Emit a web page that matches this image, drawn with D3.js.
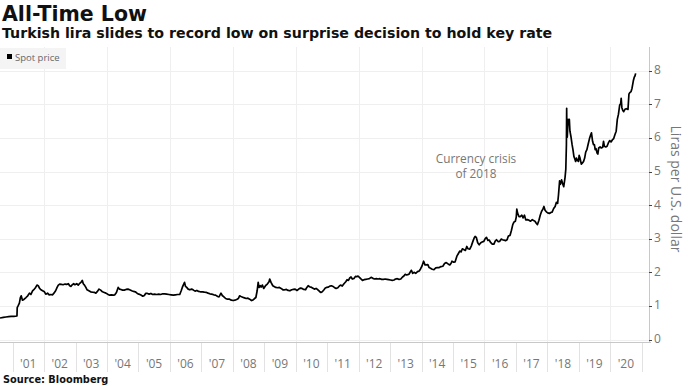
<!DOCTYPE html>
<html>
<head>
<meta charset="utf-8">
<script src="https://cdn.jsdelivr.net/npm/d3@7"></script>
<style>
body{margin:0;background:#fff}
</style>
</head>
<body>
<div id="chart"></div>
<script>
// USD/TRY spot
var days = ["2000-08-07","2000-09-15","2000-10-15","2000-11-15","2000-12-15","2001-01-15","2001-02-20","2001-02-23","2001-03-05","2001-03-20","2001-04-01","2001-04-10","2001-04-25","2001-05-15","2001-06-05","2001-06-25","2001-07-15","2001-08-01","2001-08-20","2001-09-10","2001-09-25","2001-10-10","2001-10-25","2001-11-10","2001-11-25","2001-12-15",
"2002-01-05","2002-01-20","2002-02-10","2002-03-01","2002-03-20","2002-04-10","2002-04-25","2002-05-15","2002-06-01","2002-06-15","2002-07-01","2002-07-20","2002-08-10","2002-09-01","2002-09-20","2002-10-10","2002-10-25","2002-11-10","2002-11-20","2002-12-10","2002-12-25",
"2003-01-15","2003-02-01","2003-02-15","2003-03-05","2003-03-20","2003-04-01","2003-04-15","2003-05-01","2003-05-15","2003-06-05","2003-06-25","2003-07-15","2003-08-10","2003-08-25","2003-09-15","2003-10-01","2003-10-20","2003-11-10","2003-12-01","2003-12-20",
"2004-01-15","2004-02-01","2004-02-20","2004-03-15","2004-04-01","2004-04-20","2004-05-10","2004-05-25","2004-06-10","2004-07-01","2004-07-20","2004-08-10","2004-09-01","2004-09-20","2004-10-15","2004-11-05","2004-11-25","2004-12-15",
"2005-01-05","2005-01-25","2005-02-20","2005-03-10","2005-03-25","2005-04-15","2005-05-05","2005-05-25","2005-06-15","2005-07-05","2005-08-01","2005-08-25","2005-09-15","2005-10-10","2005-11-01","2005-11-25","2005-12-20",
"2006-01-15","2006-02-10","2006-03-05","2006-04-01","2006-04-25","2006-05-12","2006-05-25","2006-06-05","2006-06-20","2006-07-01","2006-07-15","2006-08-01","2006-08-20","2006-09-10","2006-10-01","2006-10-20","2006-11-10","2006-12-01","2006-12-20",
"2007-01-15","2007-02-05","2007-03-01","2007-03-20","2007-04-10","2007-05-01","2007-05-25","2007-06-15","2007-07-10","2007-07-25","2007-08-17","2007-09-01","2007-09-20","2007-10-10","2007-11-01","2007-11-25","2007-12-15",
"2008-01-05","2008-01-25","2008-02-15","2008-03-05","2008-03-20","2008-04-05","2008-04-25","2008-05-15","2008-06-05","2008-06-25","2008-07-15","2008-08-05","2008-08-20","2008-09-10","2008-09-25","2008-10-10","2008-10-22","2008-11-01","2008-11-15","2008-11-25","2008-12-10","2008-12-25",
"2009-01-15","2009-02-05","2009-02-25","2009-03-05","2009-03-20","2009-04-10","2009-04-25","2009-05-15","2009-06-05","2009-06-25","2009-07-15","2009-08-05","2009-08-25","2009-09-15","2009-10-05","2009-10-25","2009-11-15","2009-12-05","2009-12-25",
"2010-01-15","2010-02-05","2010-02-25","2010-03-15","2010-04-05","2010-04-25","2010-05-10","2010-05-25","2010-06-10","2010-06-25","2010-07-15","2010-08-05","2010-08-25","2010-09-15","2010-10-05","2010-10-20","2010-11-05","2010-11-25","2010-12-10","2010-12-25",
"2011-01-15","2011-02-01","2011-02-20","2011-03-10","2011-03-25","2011-04-15","2011-05-05","2011-05-25","2011-06-10","2011-06-25","2011-07-15","2011-08-05","2011-08-20","2011-09-05","2011-09-20","2011-10-05","2011-10-20","2011-11-10","2011-11-25","2011-12-10","2011-12-25",
"2012-01-10","2012-01-25","2012-02-15","2012-03-05","2012-03-25","2012-04-15","2012-05-05","2012-05-25","2012-06-15","2012-07-05","2012-07-25","2012-08-15","2012-09-05","2012-09-25","2012-10-15","2012-11-05","2012-11-25","2012-12-15",
"2013-01-05","2013-01-25","2013-02-15","2013-03-05","2013-03-25","2013-04-15","2013-05-05","2013-05-25","2013-06-10","2013-06-25","2013-07-10","2013-07-25","2013-08-10","2013-08-25","2013-09-05","2013-09-20","2013-10-05","2013-10-25","2013-11-15","2013-12-05","2013-12-20",
"2014-01-05","2014-01-25","2014-02-10","2014-02-25","2014-03-15","2014-03-30","2014-04-15","2014-05-05","2014-05-25","2014-06-15","2014-07-05","2014-07-25","2014-08-15","2014-09-05","2014-09-25","2014-10-15","2014-11-05","2014-11-25","2014-12-10","2014-12-20",
"2015-01-10","2015-01-25","2015-02-15","2015-03-05","2015-03-20","2015-04-05","2015-04-20","2015-05-05","2015-05-25","2015-06-10","2015-06-25","2015-07-15","2015-08-01","2015-08-20","2015-09-05","2015-09-15","2015-09-30","2015-10-15","2015-11-01","2015-11-20","2015-12-05","2015-12-25",
"2016-01-10","2016-01-25","2016-02-10","2016-02-25","2016-03-15","2016-04-01","2016-04-20","2016-05-05","2016-05-20","2016-06-10","2016-06-25","2016-07-15","2016-07-28","2016-08-15","2016-09-01","2016-09-20","2016-10-05","2016-10-25","2016-11-10","2016-11-25","2016-12-10","2016-12-25",
"2017-01-05","2017-01-11","2017-01-20","2017-02-05","2017-02-20","2017-03-10","2017-03-25","2017-04-10","2017-04-25","2017-05-15","2017-06-01","2017-06-20","2017-07-10","2017-07-25","2017-08-10","2017-08-25","2017-09-08","2017-09-25","2017-10-10","2017-10-25","2017-11-10","2017-11-22","2017-12-05","2017-12-20",
"2018-01-05","2018-01-25","2018-02-10","2018-02-25","2018-03-15","2018-04-01","2018-04-15","2018-04-30","2018-05-10","2018-05-23","2018-06-01","2018-06-15","2018-06-28","2018-07-10","2018-07-25","2018-08-03","2018-08-10","2018-08-13","2018-08-15","2018-08-20","2018-08-30","2018-09-05","2018-09-13","2018-09-20","2018-10-01","2018-10-15","2018-10-25","2018-11-05","2018-11-15","2018-11-25","2018-12-05","2018-12-15","2018-12-28",
"2019-01-05","2019-01-15","2019-01-30","2019-02-10","2019-02-25","2019-03-10","2019-03-22","2019-04-05","2019-04-20","2019-05-05","2019-05-20","2019-05-28","2019-06-10","2019-06-20","2019-07-01","2019-07-10","2019-07-20","2019-08-01","2019-08-10","2019-08-20","2019-09-05","2019-09-20","2019-10-05","2019-10-15","2019-10-25","2019-11-10","2019-11-25","2019-12-10","2019-12-25",
"2020-01-10","2020-01-25","2020-02-10","2020-02-25","2020-03-10","2020-03-23","2020-04-05","2020-04-20","2020-05-01","2020-05-07","2020-05-15","2020-05-25","2020-06-05","2020-06-20","2020-07-05","2020-07-25","2020-08-05","2020-08-15","2020-08-30","2020-09-10","2020-09-25","2020-10-05","2020-10-15","2020-10-22"]

var spot = [0.64,0.66,0.67,0.68,0.69,0.69,0.70,0.95,1.00,1.08,1.25,1.30,1.17,1.20,1.25,1.30,1.38,1.34,1.45,1.50,1.55,1.62,1.60,1.52,1.48,1.45,
1.42,1.35,1.38,1.33,1.34,1.33,1.38,1.45,1.55,1.62,1.65,1.64,1.63,1.65,1.64,1.66,1.60,1.58,1.62,1.66,1.63,
1.66,1.62,1.66,1.70,1.76,1.66,1.62,1.55,1.48,1.45,1.42,1.41,1.40,1.38,1.44,1.50,1.47,1.42,1.40,1.38,
1.34,1.32,1.33,1.32,1.33,1.40,1.55,1.50,1.49,1.47,1.47,1.49,1.50,1.48,1.45,1.43,1.42,1.38,
1.35,1.33,1.29,1.31,1.37,1.37,1.35,1.37,1.34,1.35,1.34,1.35,1.34,1.36,1.36,1.35,1.34,
1.33,1.32,1.33,1.34,1.34,1.45,1.55,1.62,1.70,1.58,1.55,1.50,1.48,1.50,1.47,1.44,1.46,1.43,1.42,
1.42,1.41,1.40,1.38,1.36,1.35,1.33,1.32,1.28,1.27,1.38,1.31,1.27,1.22,1.20,1.20,1.17,
1.16,1.17,1.19,1.22,1.30,1.28,1.26,1.24,1.22,1.23,1.20,1.16,1.17,1.22,1.25,1.45,1.70,1.55,1.60,1.56,1.62,1.52,
1.60,1.65,1.72,1.80,1.70,1.60,1.58,1.55,1.54,1.55,1.52,1.48,1.48,1.49,1.46,1.45,1.48,1.49,1.50,
1.46,1.50,1.53,1.52,1.49,1.48,1.55,1.60,1.57,1.56,1.53,1.50,1.52,1.48,1.43,1.40,1.42,1.48,1.53,1.55,
1.56,1.59,1.60,1.58,1.55,1.52,1.54,1.60,1.62,1.59,1.66,1.72,1.78,1.76,1.83,1.86,1.80,1.82,1.88,1.87,1.89,
1.85,1.81,1.76,1.78,1.79,1.80,1.81,1.85,1.82,1.80,1.81,1.80,1.81,1.79,1.79,1.80,1.79,1.78,
1.77,1.76,1.77,1.80,1.81,1.79,1.80,1.86,1.89,1.94,1.92,1.93,1.95,2.02,2.06,1.97,2.00,1.97,2.02,2.04,2.10,
2.18,2.33,2.22,2.22,2.23,2.14,2.12,2.09,2.08,2.13,2.14,2.14,2.17,2.18,2.26,2.29,2.25,2.22,2.27,2.33,
2.30,2.31,2.48,2.56,2.63,2.61,2.70,2.68,2.65,2.77,2.70,2.69,2.78,2.92,3.03,3.07,3.03,2.88,2.82,2.88,2.90,2.92,
3.00,3.04,2.95,2.96,2.88,2.84,2.84,2.93,2.97,2.91,2.92,2.99,2.97,2.96,2.94,2.97,3.08,3.10,3.25,3.42,3.50,3.52,
3.65,3.88,3.76,3.66,3.66,3.70,3.62,3.70,3.56,3.57,3.55,3.52,3.57,3.54,3.52,3.46,3.42,3.55,3.70,3.81,3.88,3.96,3.85,3.80,
3.77,3.75,3.78,3.79,3.90,3.96,4.08,4.05,4.30,4.72,4.62,4.75,4.63,4.55,4.82,5.07,5.80,6.88,6.20,6.02,6.55,6.40,6.55,6.20,6.05,5.80,5.65,5.45,5.38,5.30,5.40,5.33,5.30,
5.48,5.40,5.22,5.25,5.30,5.40,5.58,5.65,5.82,5.98,6.10,6.15,5.90,5.80,5.80,5.65,5.68,5.55,5.52,5.70,5.73,5.70,5.72,5.90,5.75,5.73,5.75,5.85,5.92,
5.88,5.94,5.98,6.10,6.20,6.55,6.70,6.98,7.02,7.18,6.90,6.82,6.78,6.85,6.87,6.85,7.30,7.35,7.38,7.48,7.70,7.80,7.85,7.92]

var yTicks = [0,1,2,3,4,5,6,7,8]
var yearLabels = ["'01","'02","'03","'04","'05","'06","'07","'08","'09","'10","'11","'12","'13","'14","'15","'16","'17","'18","'19","'20"]
var noteLines = ["Currency crisis","of 2018"]

var W = 688, H = 386
var parse = d3.timeParse("%Y-%m-%d")
var data = days.map((d,i)=>({date:parse(d),v:spot[i]}))

var svg = d3.select("#chart").append("svg")
.attr("width",W)
.attr("height",H)

var x = d3.scaleTime()
.domain([parse("2000-08-07"),parse("2021-03-26")])
.range([0,649])

var y = d3.scaleLinear()
.domain([0,8.7])
.range([339.5,47.2])

var years = d3.timeYear.range(parse("2001-01-01"),parse("2021-01-01"))

// grid
svg.selectAll("hgrid")
.data(yTicks)
.enter()
.append("line")
.attr("x1",0)
.attr("x2",649)
.attr("y1",d=>Math.round(y(d))+0.5)
.attr("y2",d=>Math.round(y(d))+0.5)
.attr("stroke","#efefef")

svg.selectAll("vgrid")
.data(years.filter(d=>d.getFullYear()%2==0))
.enter()
.append("line")
.attr("x1",d=>Math.round(x(d))+0.5)
.attr("x2",d=>Math.round(x(d))+0.5)
.attr("y1",47)
.attr("y2",342)
.attr("stroke","#efefef")

// legend
svg.append("rect")
.attr("x",0)
.attr("y",48)
.attr("width",66)
.attr("height",21)
.attr("fill","#f4f4f4")

svg.append("rect")
.attr("x",7)
.attr("y",54)
.attr("width",5)
.attr("height",5)
.attr("fill","#000")

svg.append("text")
.text("Spot price")
.attr("x",15)
.attr("y",61)
.attr("font-family","Open Sans")
.attr("font-size","9.5")
.attr("fill","#666")

// x axis
svg.append("line")
.attr("x1",0)
.attr("x2",651)
.attr("y1",342.5)
.attr("y2",342.5)
.attr("stroke","#c8c8c8")

svg.selectAll("sep")
.data(years.concat([parse("2021-01-01")]))
.enter()
.append("line")
.attr("x1",d=>Math.round(x(d))+0.5)
.attr("x2",d=>Math.round(x(d))+0.5)
.attr("y1",343)
.attr("y2",372)
.attr("stroke","#e2e2e2")

svg.selectAll("yearlab")
.data(years)
.enter()
.append("text")
.text((d,i)=>yearLabels[i])
.attr("x",d=>x(d3.timeMonth.offset(d,6)))
.attr("y",368)
.attr("text-anchor","middle")
.attr("font-family","Open Sans")
.attr("font-size","12")
.attr("fill","#777")

// y axis
svg.append("line")
.attr("x1",649.5)
.attr("x2",649.5)
.attr("y1",47)
.attr("y2",343)
.attr("stroke","#c8c8c8")

svg.selectAll("ytick")
.data(yTicks)
.enter()
.append("line")
.attr("x1",649)
.attr("x2",652)
.attr("y1",d=>Math.round(y(d))+0.5)
.attr("y2",d=>Math.round(y(d))+0.5)
.attr("stroke","#444")

svg.selectAll("ylab")
.data(yTicks)
.enter()
.append("text")
.text(d=>d)
.attr("x",654)
.attr("y",d=>y(d)-1)
.attr("dominant-baseline","central")
.attr("font-family","Open Sans")
.attr("font-size","12")
.attr("fill","#777")

svg.append("text")
.text("Liras per U.S. dollar")
.attr("transform","translate(671,189) rotate(90)")
.attr("text-anchor","middle")
.attr("font-family","Open Sans")
.attr("font-size","14")
.attr("fill","#777")

// line
var line = d3.line()
.x(d=>x(d.date))
.y(d=>y(d.v))

svg.append("path")
.datum(data)
.attr("d",line)
.attr("fill","none")
.attr("stroke","#000")
.attr("stroke-width",1.7)
.attr("stroke-linejoin","round")

// annotation
svg.selectAll("note")
.data(noteLines)
.enter()
.append("text")
.text(d=>d)
.attr("x",476)
.attr("y",(d,i)=>162.5+i*15)
.attr("text-anchor","middle")
.attr("font-family","Open Sans")
.attr("font-size","11.8")
.attr("fill","#777")

// titles
svg.append("text")
.text("All-Time Low")
.attr("x",2)
.attr("y",21)
.attr("font-family","DejaVu Sans")
.attr("font-weight",700)
.attr("font-size","20.5")
.attr("fill","#111")

svg.append("text")
.text("Turkish lira slides to record low on surprise decision to hold key rate")
.attr("x",2)
.attr("y",38)
.attr("font-family","DejaVu Sans")
.attr("font-weight",700)
.attr("font-size","14.2")
.attr("fill","#111")

svg.append("text")
.text("Source: Bloomberg")
.attr("x",3)
.attr("y",383)
.attr("font-family","DejaVu Sans")
.attr("font-weight",700)
.attr("font-size","9.8")
.attr("fill","#111")
</script>
</body>
</html>
